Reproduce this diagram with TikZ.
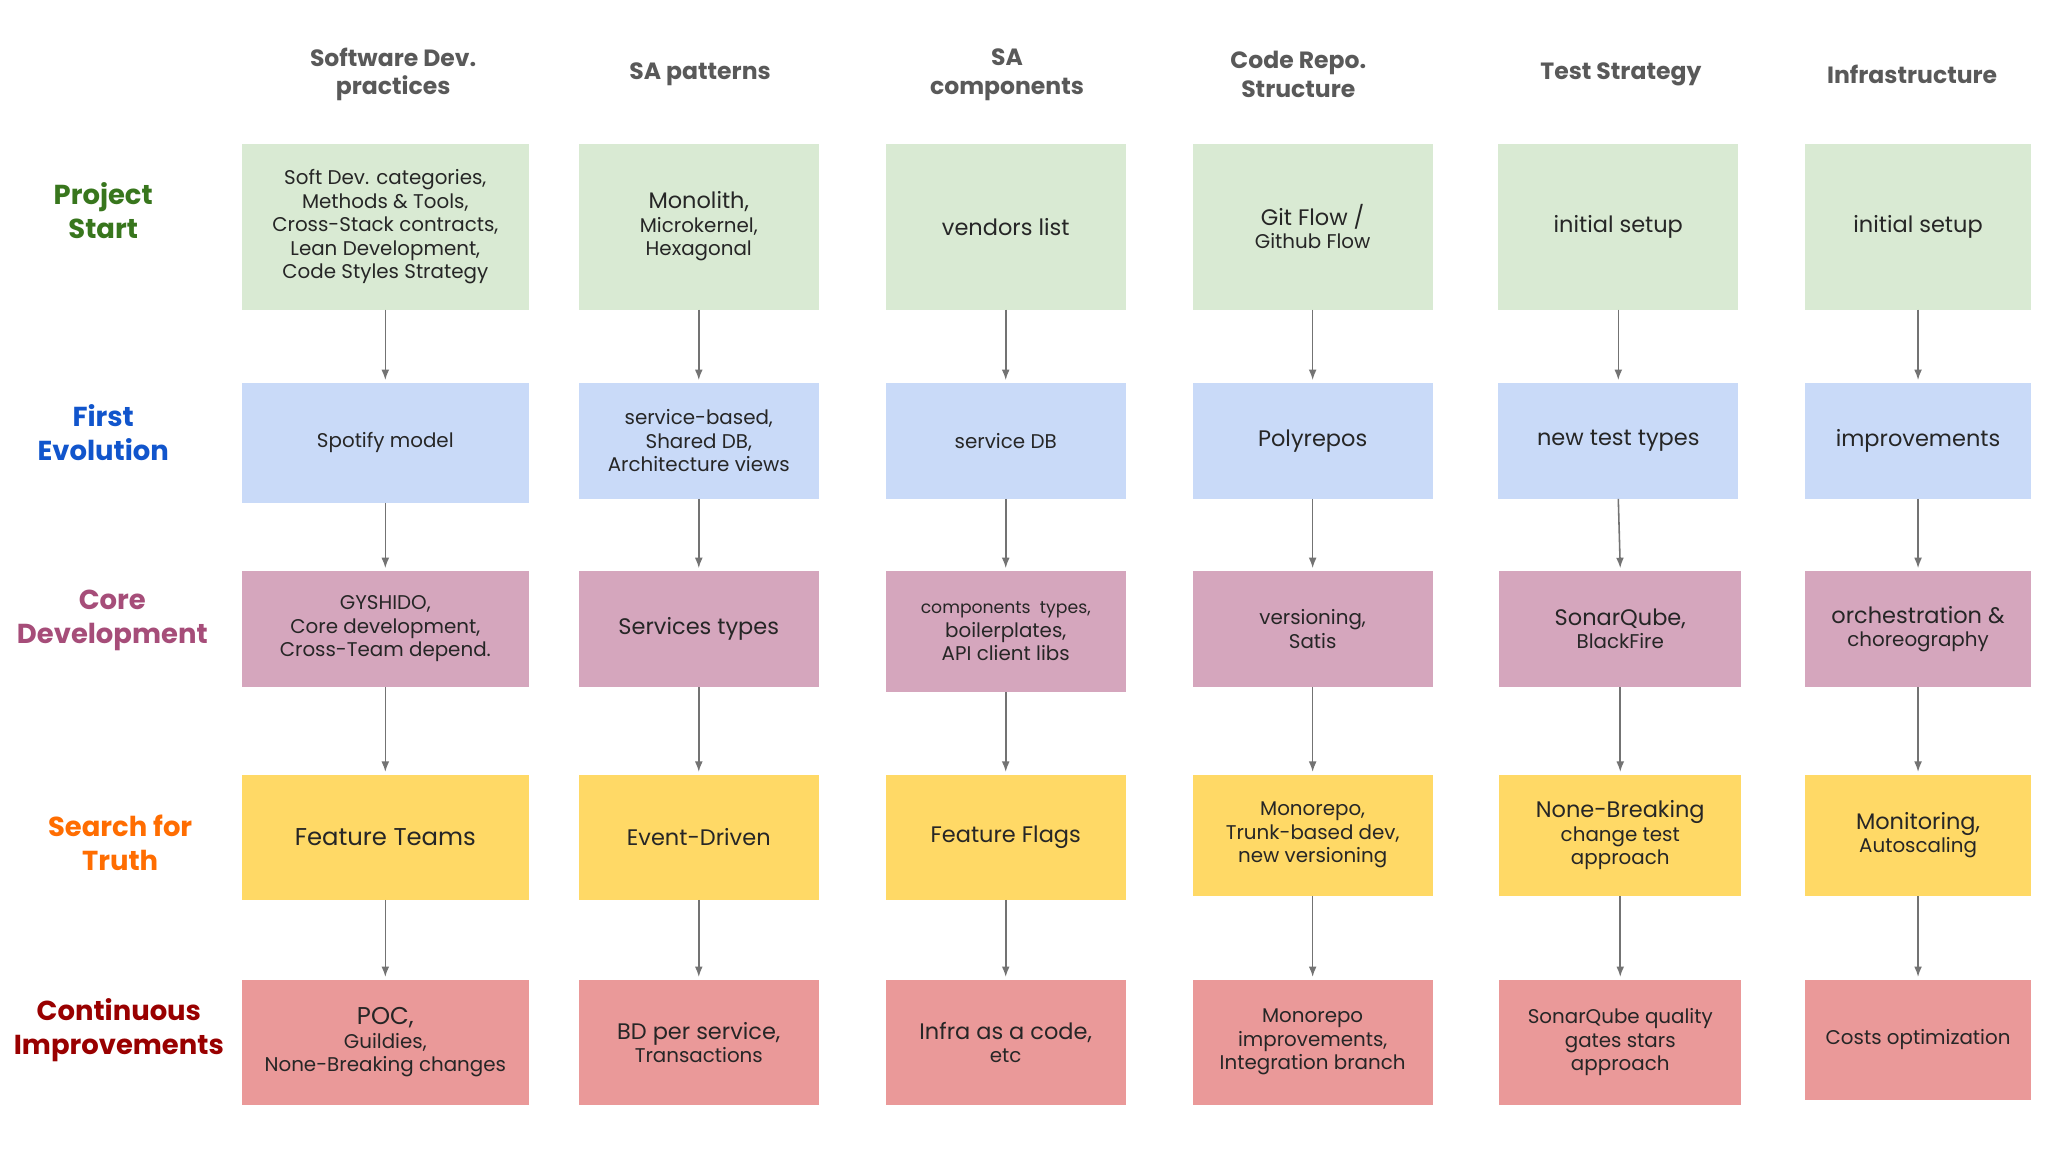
\documentclass[tikz,border=0pt]{standalone}
\usepackage{fontspec}
\setmainfont{Poppins}
\usetikzlibrary{arrows.meta}
\definecolor{cg}{HTML}{D9EAD3}\definecolor{cb}{HTML}{C9DAF8}\definecolor{cp}{HTML}{D5A6BD}
\definecolor{cy}{HTML}{FFD966}\definecolor{cr}{HTML}{EA9999}
\definecolor{lg}{HTML}{38761D}\definecolor{lb}{HTML}{1155CC}\definecolor{lp}{HTML}{A64D79}
\definecolor{lo}{HTML}{FF6D01}\definecolor{lr}{HTML}{990000}\definecolor{hd}{HTML}{595959}
\begin{document}
\begin{tikzpicture}[x=0.5pt,y=-0.5pt,
 box/.style={inner sep=0pt,align=center,font=\fontsize{7.6}{9}\selectfont,text=black!85},
 hd/.style={align=center,font=\fontsize{9}{11}\selectfont\bfseries,text=hd},
 rl/.style={align=center,font=\fontsize{10.5}{13}\selectfont\bfseries},
 ar/.style={draw=black!55,line width=0.6pt,-{Latex[length=4pt,width=3pt]}}]
\useasboundingbox[fill=white] (0,0) rectangle (1568,882);
\newcommand\bx[7]{\fill[#6] (#2,#3) rectangle (#4,#5); \node[box] (#1) at ({(#2+#4)/2},{(#3+#5)/2}) {#7}; \coordinate (#1t) at ({(#2+#4)/2},#3); \coordinate (#1b) at ({(#2+#4)/2},#5);}
% headers
\node[hd] (h1) at (301,57) {Software Dev.\\practices};
\node[hd] (h2) at (536,57) {SA patterns};
\node[hd] (h3) at (771,57) {SA\\components};
\node[hd] (h4) at (994,57) {Code Repo.\\Structure};
\node[hd] (h5) at (1241,57) {Test Strategy};
\node[hd] (h6) at (1464,57) {Infrastructure};
% row labels
\node[rl,text=lg] (r1) at (79,161) {Project\\Start};
\node[rl,text=lb] (r2) at (79,331) {First\\Evolution};
\node[rl,text=lp] (r3) at (86,475) {Core\\Development};
\node[rl,text=lo] (r4) at (92,645) {Search for\\Truth};
\node[rl,text=lr] (r5) at (91,789) {Continuous\\Improvements};
% row 1
\bx{a1}{185}{110}{405}{237}{cg}{Soft Dev. categories,\\Methods \& Tools,\\Cross-Stack contracts,\\Lean Development,\\Code Styles Strategy}
\bx{b1}{443}{110}{627}{237}{cg}{\fontsize{8.6}{11}\selectfont Monolith,\\Microkernel,\\Hexagonal}
\bx{c1}{678}{110}{862}{237}{cg}{\fontsize{8.6}{11}\selectfont vendors list}
\bx{d1}{913}{110}{1097}{237}{cg}{\fontsize{8.6}{11}\selectfont Git Flow /\\Github Flow}
\bx{e1}{1147}{110}{1331}{237}{cg}{\fontsize{8.6}{11}\selectfont initial setup}
\bx{f1}{1382}{110}{1555}{237}{cg}{\fontsize{8.6}{11}\selectfont initial setup}
% row 2
\bx{a2}{185}{293}{405}{385}{cb}{Spotify model}
\bx{b2}{443}{293}{627}{382}{cb}{service-based,\\Shared DB,\\Architecture views}
\bx{c2}{678}{293}{862}{382}{cb}{service DB}
\bx{d2}{913}{293}{1097}{382}{cb}{\fontsize{8.6}{11}\selectfont Polyrepos}
\bx{e2}{1147}{293}{1331}{382}{cb}{\fontsize{8.6}{11}\selectfont new test types}
\bx{f2}{1382}{293}{1555}{382}{cb}{\fontsize{8.6}{11}\selectfont improvements}
% row 3
\bx{a3}{185}{437}{405}{526}{cp}{GYSHIDO,\\Core development,\\Cross-Team depend.}
\bx{b3}{443}{437}{627}{526}{cp}{\fontsize{8.6}{11}\selectfont Services types}
\bx{c3}{678}{437}{862}{530}{cp}{\fontsize{6.6}{9}\selectfont components\ \ types,\\\fontsize{7.6}{9}\selectfont boilerplates,\\API client libs}
\bx{d3}{913}{437}{1097}{526}{cp}{versioning,\\Satis}
\bx{e3}{1148}{437}{1333}{526}{cp}{\fontsize{8.6}{11}\selectfont SonarQube,\\BlackFire}
\bx{f3}{1382}{437}{1555}{526}{cp}{\fontsize{8.6}{11}\selectfont orchestration \&\\choreography}
% row 4
\bx{a4}{185}{593}{405}{689}{cy}{\fontsize{9.3}{11}\selectfont Feature Teams}
\bx{b4}{443}{593}{627}{689}{cy}{\fontsize{8.6}{11}\selectfont Event-Driven}
\bx{c4}{678}{593}{862}{689}{cy}{\fontsize{8.6}{11}\selectfont Feature Flags}
\bx{d4}{913}{593}{1097}{686}{cy}{Monorepo,\\Trunk-based dev,\\new versioning}
\bx{e4}{1148}{593}{1333}{686}{cy}{\fontsize{8.6}{11}\selectfont None-Breaking\\change test\\approach}
\bx{f4}{1382}{593}{1555}{686}{cy}{\fontsize{8.6}{11}\selectfont Monitoring,\\Autoscaling}
% row 5
\bx{a5}{185}{750}{405}{846}{cr}{\fontsize{9.3}{11.5}\selectfont POC,\\Guildies,\\\fontsize{7.6}{10}\selectfont None-Breaking changes}
\bx{b5}{443}{750}{627}{846}{cr}{\fontsize{8.6}{11}\selectfont BD per service,\\Transactions}
\bx{c5}{678}{750}{862}{846}{cr}{\fontsize{8.6}{11}\selectfont Infra as a code,\\etc}
\bx{d5}{913}{750}{1097}{846}{cr}{Monorepo\\improvements,\\Integration branch}
\bx{e5}{1148}{750}{1333}{846}{cr}{SonarQube quality\\gates stars\\approach}
\bx{f5}{1382}{750}{1555}{842}{cr}{Costs optimization}
% arrows
\foreach \c in {a,b,c,d,e,f}{
 \foreach \i/\j in {1/2,2/3,3/4,4/5}{
  \draw[ar] (\c\i b) -- ([yshift=1pt]\c\j t);
 }}
\end{tikzpicture}
\end{document}
